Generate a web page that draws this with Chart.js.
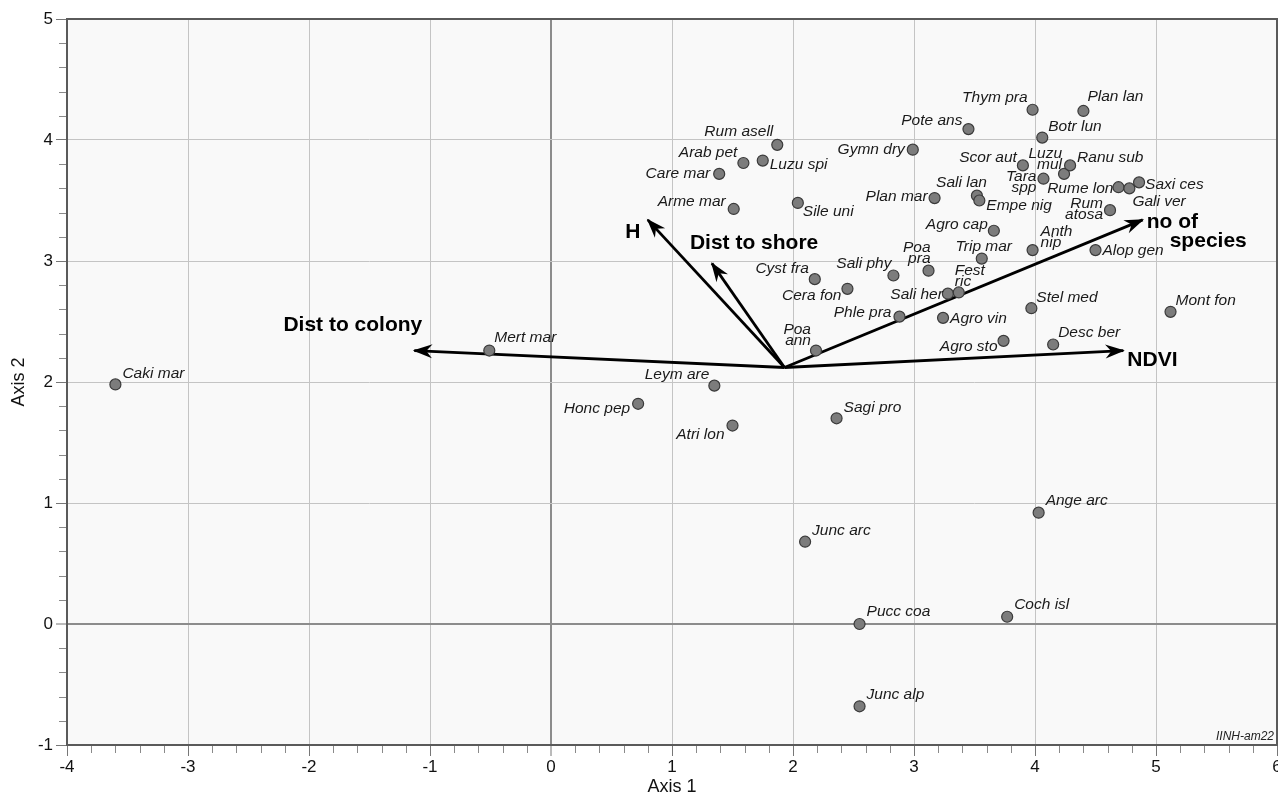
<!DOCTYPE html>
<html>
<head>
<meta charset="utf-8">
<title>Ordination biplot</title>
<script src="https://cdn.jsdelivr.net/npm/chart.js@4.4.1/dist/chart.umd.min.js"></script>
<style>
  html, body { margin: 0; padding: 0; background: #fff; }
  #wrap { width: 1278px; height: 798px; }
</style>
</head>
<body>
<div id="wrap"><canvas id="biplot" width="1278" height="798"></canvas></div>
<script>
// Species scores on the two ordination axes
const SPECIES = [
    'Caki mar', 'Mert mar', 'Honc pep', 'Leym are', 'Atri lon', 'Sagi pro', 'Junc arc', 'Pucc coa',
    'Junc alp', 'Coch isl', 'Ange arc', 'Mont fon', 'Desc ber', 'Agro sto', 'Stel med', 'Agro vin',
    'Phle pra', 'Poa ann', 'Cera fon', 'Cyst fra', 'Sali phy', 'Poa pra', 'Sali her', 'Fest ric',
    'Trip mar', 'Anth nip', 'Alop gen', 'Agro cap', 'Sali lan', 'Empe nig', 'Plan mar', 'Sile uni',
    'Arme mar', 'Care mar', 'Arab pet', 'Luzu spi', 'Rum asell', 'Gymn dry', 'Pote ans', 'Thym pra',
    'Plan lan', 'Botr lun', 'Scor aut', 'Luzu mul', 'Ranu sub', 'Tara spp', 'Rume lon', 'Gali ver',
    'Saxi ces', 'Rum atosa'
];
const AXIS1 = [
    -3.60, -0.51, 0.72, 1.35, 1.50, 2.36, 2.10, 2.55,
    2.55, 3.77, 4.03, 5.12, 4.15, 3.74, 3.97, 3.24,
    2.88, 2.19, 2.45, 2.18, 2.83, 3.12, 3.28, 3.37,
    3.56, 3.98, 4.50, 3.66, 3.52, 3.54, 3.17, 2.04,
    1.51, 1.39, 1.59, 1.75, 1.87, 2.99, 3.45, 3.98,
    4.40, 4.06, 3.90, 4.24, 4.29, 4.07, 4.69, 4.78,
    4.86, 4.62
];
const AXIS2 = [
    1.98, 2.26, 1.82, 1.97, 1.64, 1.70, 0.68, 0.00,
    -0.68, 0.06, 0.92, 2.58, 2.31, 2.34, 2.61, 2.53,
    2.54, 2.26, 2.77, 2.85, 2.88, 2.92, 2.73, 2.74,
    3.02, 3.09, 3.09, 3.25, 3.54, 3.50, 3.52, 3.48,
    3.43, 3.72, 3.81, 3.83, 3.96, 3.92, 4.09, 4.25,
    4.24, 4.02, 3.79, 3.72, 3.79, 3.68, 3.61, 3.60,
    3.65, 3.42
];

// Fitted environmental vectors (all drawn from one origin)
const VECTOR_NAMES = ['Dist to colony', 'H', 'Dist to shore', 'no of species', 'NDVI'];
const VECTOR_ORIGIN = [1.93, 2.12];
const VECTOR_AXIS1 = [-1.13, 0.80, 1.33, 4.89, 4.73];
const VECTOR_AXIS2 = [2.26, 3.34, 2.98, 3.34, 2.26];

const X_RANGE = [-4, 6];
const Y_RANGE = [-1, 5];

// label placement next to each point: [textAlign, dx, dy] in px
const LABEL_SPOTS = {
    'Caki mar': ['left', 7, -11], 'Mert mar': ['left', 5, -13], 'Honc pep': ['right', -8, 5],
    'Leym are': ['right', -5, -11], 'Atri lon': ['right', -8, 9], 'Sagi pro': ['left', 7, -11],
    'Junc arc': ['left', 7, -11], 'Pucc coa': ['left', 7, -12], 'Junc alp': ['left', 7, -12],
    'Coch isl': ['left', 7, -12], 'Ange arc': ['left', 7, -12], 'Mont fon': ['left', 5, -11],
    'Desc ber': ['left', 5, -12], 'Agro sto': ['right', -6, 6], 'Stel med': ['left', 5, -11],
    'Agro vin': ['left', 7, 1], 'Phle pra': ['right', -8, -4], 'Poa ann': ['right', -5, -21],
    'Cera fon': ['right', -6, 7], 'Cyst fra': ['right', -6, -10], 'Sali phy': ['right', -2, -12],
    'Poa pra': ['right', 2, -23], 'Sali her': ['right', -5, 1], 'Fest ric': ['left', -4, -22],
    'Trip mar': ['center', 2, -12], 'Anth nip': ['left', 8, -18], 'Alop gen': ['left', 7, 1],
    'Agro cap': ['right', -6, -6], 'Sali lan': ['right', 10, -13], 'Empe nig': ['left', 7, 5],
    'Plan mar': ['right', -7, -1], 'Sile uni': ['left', 5, 9], 'Arme mar': ['right', -8, -7],
    'Care mar': ['right', -9, 0], 'Arab pet': ['right', -6, -10], 'Luzu spi': ['left', 7, 4],
    'Rum asell': ['right', -4, -13], 'Gymn dry': ['right', -8, 0], 'Pote ans': ['right', -6, -8],
    'Thym pra': ['right', -5, -12], 'Plan lan': ['left', 4, -14], 'Botr lun': ['left', 6, -11],
    'Scor aut': ['right', -6, -8], 'Luzu mul': ['right', -2, -20], 'Ranu sub': ['left', 7, -8],
    'Tara spp': ['right', -7, -2], 'Rume lon': ['right', -5, 1], 'Gali ver': ['left', 3, 13],
    'Saxi ces': ['left', 6, 2], 'Rum atosa': ['right', -7, -6]
};
// these labels are stacked on two lines in the original
const STACKED = ['Poa ann', 'Poa pra', 'Fest ric', 'Anth nip', 'Luzu mul', 'Tara spp', 'Rum atosa'];

// vector labels relative to the arrow tip: [text, textAlign, dx, dy]
const VECTOR_LABEL_SPOTS = {
    'Dist to colony': [['Dist to colony', 'right', 8, -25]],
    'H': [['H', 'center', -15, 12]],
    'Dist to shore': [['Dist to shore', 'left', -22, -20]],
    'no of species': [['no of', 'left', 4, 2], ['species', 'left', 27, 21]],
    'NDVI': [['NDVI', 'left', 4, 10]]
};

const FONT = '"Liberation Sans", Arial, Helvetica, sans-serif';
Chart.defaults.font.family = FONT;

const isZero = v => Math.abs(v) < 1e-9;

const speciesPoints = SPECIES.map((name, i) => ({ x: AXIS1[i], y: AXIS2[i], name }));

const vectorDatasets = VECTOR_NAMES.map((name, i) => ({
    label: name,
    data: [
        { x: VECTOR_ORIGIN[0], y: VECTOR_ORIGIN[1] },
        { x: VECTOR_AXIS1[i], y: VECTOR_AXIS2[i] }
    ],
    showLine: true,
    borderColor: '#000',
    borderWidth: 2.8,
    pointRadius: 0,
    order: 2
}));

const biplotDecor = {
    id: 'biplotDecor',
    beforeDraw(chart) {
        const { ctx, chartArea: a } = chart;
        ctx.save();
        ctx.fillStyle = '#f9f9f9';
        ctx.fillRect(a.left, a.top, a.right - a.left, a.bottom - a.top);
        ctx.restore();
    },
    beforeDatasetsDraw(chart) {
        const { ctx, chartArea: a, scales: { x, y } } = chart;
        ctx.save();
        // minor ticks every 0.2
        ctx.strokeStyle = '#8a8a8a';
        ctx.lineWidth = 1;
        ctx.beginPath();
        for (let i = X_RANGE[0] * 5; i <= X_RANGE[1] * 5; i++) {
            if (i % 5 === 0) continue;
            const px = Math.round(x.getPixelForValue(i / 5)) + 0.5;
            ctx.moveTo(px, a.bottom);
            ctx.lineTo(px, a.bottom + 8);
        }
        for (let i = Y_RANGE[0] * 5; i <= Y_RANGE[1] * 5; i++) {
            if (i % 5 === 0) continue;
            const py = Math.round(y.getPixelForValue(i / 5)) + 0.5;
            ctx.moveTo(a.left, py);
            ctx.lineTo(a.left - 8, py);
        }
        ctx.stroke();

        // last x tick label sits on the canvas edge (kept out of the layout so it gets clipped)
        ctx.font = '17px ' + FONT;
        ctx.fillStyle = '#111';
        ctx.textAlign = 'center';
        ctx.textBaseline = 'middle';
        ctx.fillText(String(X_RANGE[1]), x.getPixelForValue(X_RANGE[1]), a.bottom + 22);

        // frame
        ctx.strokeStyle = '#5a5a5a';
        ctx.lineWidth = 2;
        ctx.strokeRect(a.left, a.top, a.right - a.left, a.bottom - a.top);
        ctx.restore();
    },
    afterDatasetsDraw(chart) {
        const { ctx, chartArea: a } = chart;
        ctx.save();

        // arrow heads + vector labels
        VECTOR_NAMES.forEach((name, i) => {
            const meta = chart.getDatasetMeta(i + 1);
            const p0 = meta.data[0], p1 = meta.data[1];
            const ang = Math.atan2(p1.y - p0.y, p1.x - p0.x);
            const len = 18, half = 7, notch = 12;
            const back = (d, side) => [
                p1.x - d * Math.cos(ang) - side * Math.sin(ang),
                p1.y - d * Math.sin(ang) + side * Math.cos(ang)
            ];
            const [lx, ly] = back(len, half);
            const [rx, ry] = back(len, -half);
            const [nx, ny] = back(notch, 0);
            ctx.fillStyle = '#000';
            ctx.beginPath();
            ctx.moveTo(p1.x + 1.5 * Math.cos(ang), p1.y + 1.5 * Math.sin(ang));
            ctx.lineTo(lx, ly);
            ctx.lineTo(nx, ny);
            ctx.lineTo(rx, ry);
            ctx.closePath();
            ctx.fill();

            ctx.font = 'bold 21px ' + FONT;
            ctx.textBaseline = 'middle';
            VECTOR_LABEL_SPOTS[name].forEach(([text, align, dx, dy]) => {
                ctx.textAlign = align;
                ctx.fillText(text, p1.x + dx, p1.y + dy);
            });
        });

        // species labels
        const pts = chart.getDatasetMeta(0).data;
        ctx.font = 'italic 15.5px ' + FONT;
        ctx.fillStyle = '#1a1a1a';
        ctx.textBaseline = 'middle';
        SPECIES.forEach((name, i) => {
            const [align, dx, dy] = LABEL_SPOTS[name];
            const lines = STACKED.includes(name) ? name.split(' ') : [name];
            ctx.textAlign = align;
            lines.forEach((line, k) => {
                ctx.fillText(line, pts[i].x + dx, pts[i].y + dy + k * 11);
            });
        });

        // corner tag
        ctx.font = 'italic 12px ' + FONT;
        ctx.textAlign = 'right';
        ctx.fillStyle = '#222';
        ctx.fillText('IINH-am22', a.right - 3, a.bottom - 8);
        ctx.restore();
    }
};

const gridColor = c => (c.tick && isZero(c.tick.value) ? '#8c8c8c' : '#c4c4c4');
const gridWidth = c => (c.tick && isZero(c.tick.value) ? 2 : 1);

new Chart(document.getElementById('biplot'), {
    type: 'scatter',
    data: {
        datasets: [
            {
                label: 'Species',
                data: speciesPoints,
                pointRadius: 5.5,
                pointBackgroundColor: '#7c7c7c',
                pointBorderColor: '#3a3a3a',
                pointBorderWidth: 1.2,
                order: 1
            },
            ...vectorDatasets
        ]
    },
    options: {
        responsive: false,
        animation: false,
        layout: { autoPadding: false, padding: { top: 19, right: 0, bottom: 0, left: 0 } },
        plugins: {
            legend: { display: false },
            tooltip: { enabled: false }
        },
        scales: {
            x: {
                type: 'linear',
                min: X_RANGE[0],
                max: X_RANGE[1],
                ticks: {
                    stepSize: 1, color: '#111', font: { size: 17 }, padding: 1, maxRotation: 0,
                    callback: v => (v === X_RANGE[1] ? '' : String(v))
                },
                grid: { color: gridColor, lineWidth: gridWidth, tickColor: '#777', tickWidth: 1, tickLength: 11 },
                border: { display: false },
                title: { display: true, text: 'Axis 1', color: '#111', font: { size: 18 }, padding: { top: -2, bottom: 0 } },
                afterFit(scale) {
                    scale.height = 53;
                }
            },
            y: {
                type: 'linear',
                min: Y_RANGE[0],
                max: Y_RANGE[1],
                ticks: { stepSize: 1, color: '#111', font: { size: 17 }, padding: 3 },
                grid: { color: gridColor, lineWidth: gridWidth, tickColor: '#777', tickWidth: 1, tickLength: 11 },
                border: { display: false },
                title: { display: true, text: 'Axis 2', color: '#111', font: { size: 18 }, padding: { top: 8, bottom: 0 } },
                afterFit(scale) {
                    scale.width = 67;
                }
            }
        }
    },
    plugins: [biplotDecor]
});
</script>
</body>
</html>
